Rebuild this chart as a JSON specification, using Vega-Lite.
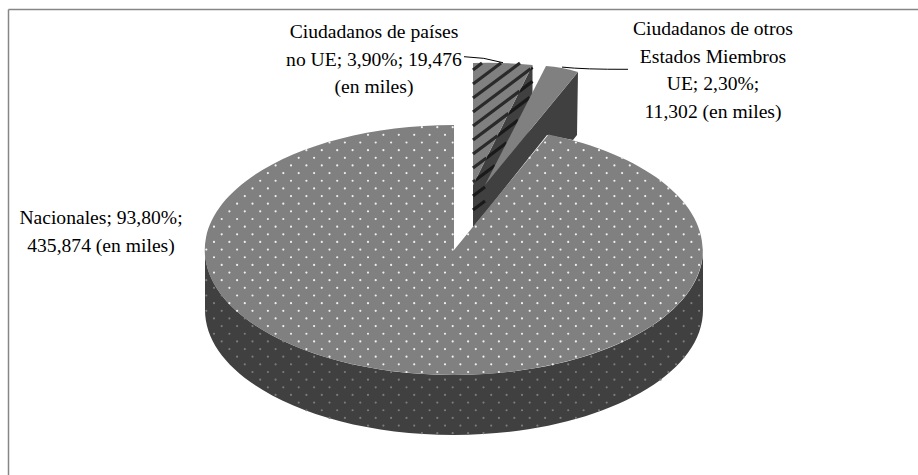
{"$schema":"https://vega.github.io/schema/vega-lite/v6.json","width":910,"height":466,"padding":{"left":8,"top":9,"right":0,"bottom":0},"autosize":"none","background":"white","view":{"stroke":null,"fill":"white"},"data":{"values":[{"segmento":"Ciudadanos de países no UE","porcentaje":3.9,"miles":19.476,"etiqueta":"Ciudadanos de países\nno UE; 3,90%; 19,476\n(en miles)"},{"segmento":"Ciudadanos de otros Estados Miembros UE","porcentaje":2.3,"miles":11.302,"etiqueta":"Ciudadanos de otros\nEstados Miembros\nUE; 2,30%;\n11,302 (en miles)"},{"segmento":"Nacionales","porcentaje":93.8,"miles":435.874,"etiqueta":"Nacionales; 93,80%;\n435,874 (en miles)"}]},"encoding":{"x":{"datum":0,"type":"quantitative","scale":{"domain":[-446,464],"nice":false,"zero":false},"axis":{"orient":"top","domain":true,"domainColor":"#868686","domainWidth":1.5,"ticks":false,"labels":false,"grid":false,"title":null}},"y":{"datum":0,"type":"quantitative","scale":{"domain":[-225,241],"nice":false,"zero":false},"axis":{"orient":"left","domain":true,"domainColor":"#868686","domainWidth":1.5,"ticks":false,"labels":false,"grid":false,"title":null}}},"layer":[{"mark":{"type":"point","filled":true,"fill":"#404040","stroke":null,"size":4,"opacity":1},"encoding":{"shape":{"field":"segmento","type":"nominal","legend":null,"scale":{"domain":["Ciudadanos de países no UE","Ciudadanos de otros Estados Miembros UE","Nacionales"],"range":["M19,-65L78.5,-185L78.5,-125L31,-37L19,-23Z","M31,-65L124,-178L123,-115L119,-110L93,-115L31,-37Z","M-249,0A249,125 0 0 0 249,0L249,60A249,125 0 0 1 -249,60Z"]}}}},{"transform":[{"filter":"datum.segmento === 'Ciudadanos de países no UE'"}],"mark":{"type":"point","filled":false,"stroke":"#1a1a1a","strokeWidth":3.2,"size":4,"opacity":1},"encoding":{"shape":{"field":"segmento","type":"nominal","legend":null,"scale":{"domain":["Ciudadanos de países no UE"],"range":["M76.6,-181.2L78.5,-182.6M65.6,-158.9L78.5,-168.6M54.5,-136.6L75.8,-152.6M43.5,-114.3L64.2,-129.9M32.4,-92L52.6,-107.2M21.3,-69.7L41,-84.5M19,-54L31,-63M19,-40L31,-49"]}}}},{"transform":[{"filter":"datum.segmento === 'Nacionales'"}],"mark":{"type":"point","filled":false,"stroke":"#7c7c7c","strokeWidth":2.2,"strokeDash":[0,15.4],"strokeCap":"round","size":4,"opacity":1},"encoding":{"shape":{"field":"segmento","type":"nominal","legend":null,"scale":{"domain":["Nacionales"],"range":["M-32.1,183.2H42M-86,175.55H95M-124.5,167.9H125.7M-147.6,160.25H148.7M-155.3,152.6H167.3M-178.4,144.95H182.7M-186.1,137.3H195.7M-193.8,129.65H206.8M-201.5,122H-54.2M60.3,122H216.2M-209.2,114.35H-100.6M114.2,114.35H224.2M-216.9,106.7H-129.7M137.3,106.7H231M-224.6,99.05H-151.9M160.4,99.05H236.5M-232.3,91.4H-169.8M183.5,91.4H241M-240,83.75H-184.9M191.2,83.75H244.5M-232.3,76.1H-197.5M198.9,76.1H246.9M-240,68.45H-208.3M222,68.45H248.4M-247.7,60.8H-217.6M229.7,60.8H249M-240,53.15H-225.4M237.4,53.15H249M-247.7,45.5H-231.9M245.1,45.5H249M-240,37.85H-237.3M-247.7,30.2H-241.6M245.1,30.2H249"]}}}},{"mark":{"type":"point","filled":true,"fill":"#808080","stroke":null,"size":4,"opacity":1},"encoding":{"shape":{"field":"segmento","type":"nominal","legend":null,"scale":{"domain":["Ciudadanos de países no UE","Ciudadanos de otros Estados Miembros UE","Nacionales"],"range":["M19,-65L19,-187Q50,-188 78.5,-185Z","M31,-65L92,-184Q108,-183 124,-178Z","M0,0L0,-125A249,125 0 1 0 94.5,-115.6Z"]}}}},{"transform":[{"filter":"datum.segmento === 'Ciudadanos de países no UE'"}],"mark":{"type":"point","filled":false,"stroke":"#2a2a2a","strokeWidth":3.2,"size":4,"opacity":1},"encoding":{"shape":{"field":"segmento","type":"nominal","legend":null,"scale":{"domain":["Ciudadanos de países no UE"],"range":["M19,-180L28,-187M19,-166L47,-187M19,-152L66,-187M19,-138L76.6,-181.2M19,-124L65.6,-158.9M19,-110L54.5,-136.6M19,-96L43.5,-114.3M19,-82L32.4,-92M19,-68L21.3,-69.7"]}}}},{"transform":[{"filter":"datum.segmento === 'Nacionales'"}],"mark":{"type":"point","filled":false,"stroke":"#f0f0f0","strokeWidth":2.2,"strokeDash":[0,15.4],"strokeCap":"round","size":4,"opacity":1},"encoding":{"shape":{"field":"segmento","type":"nominal","legend":null,"scale":{"domain":["Nacionales"],"range":["M-32.1,-122.8H-0.8M-86,-115.15H-0.8M-124.5,-107.5H-0.8M91.1,-107.5H127.1M-147.6,-99.85H-0.8M83.4,-99.85H149.8M-155.3,-92.2H-0.8M75.7,-92.2H168.1M-178.4,-84.55H-0.8M83.4,-84.55H183.4M-186.1,-76.9H-0.8M75.7,-76.9H196.3M-193.8,-69.25H-0.8M68,-69.25H207.3M-201.5,-61.6H-0.8M60.3,-61.6H216.7M-209.2,-53.95H-0.8M52.6,-53.95H224.6M-216.9,-46.3H-0.8M44.9,-46.3H231.3M-224.6,-38.65H-0.8M37.2,-38.65H236.8M-232.3,-31H-0.8M29.5,-31H241.2M-240,-23.35H-0.8M21.8,-23.35H244.6M-232.3,-15.7H-0.8M14.1,-15.7H247M-240,-8.05H-0.8M21.8,-8.05H248.5M-247.7,-0.4H249M-240,7.25H248M-232.3,14.9H247M-240,22.55H244.9M-232.3,30.2H241.6M-224.6,37.85H237.3M-216.9,45.5H231.9M-224.6,53.15H225.4M-216.9,60.8H217.6M-193.8,68.45H208.3M-186.1,76.1H197.5M-178.4,83.75H184.9M-155.3,91.4H169.8M-147.6,99.05H151.9M-124.5,106.7H129.7M-86,114.35H100.6M-47.5,122H54.2"]}}}},{"transform":[{"filter":"datum.segmento !== 'Nacionales'"}],"mark":{"type":"point","filled":false,"stroke":"#000000","strokeWidth":1,"size":4,"opacity":1},"encoding":{"shape":{"field":"segmento","type":"nominal","legend":null,"scale":{"domain":["Ciudadanos de países no UE","Ciudadanos de otros Estados Miembros UE"],"range":["M10,-193.3Q30,-193 49,-187.3","M108,-182.9Q130,-180.5 174,-180.7"]}}}},{"transform":[{"filter":"datum.segmento === 'Ciudadanos de países no UE'"}],"mark":{"type":"text","font":"Liberation Serif","fontSize":19.6,"color":"#000000","align":"center","baseline":"alphabetic","lineBreak":"\n","lineHeight":27.5,"dx":-80,"dy":-212},"encoding":{"text":{"field":"etiqueta","type":"nominal"}}},{"transform":[{"filter":"datum.segmento === 'Ciudadanos de otros Estados Miembros UE'"}],"mark":{"type":"text","font":"Liberation Serif","fontSize":19.6,"color":"#000000","align":"center","baseline":"alphabetic","lineBreak":"\n","lineHeight":27.5,"dx":259,"dy":-215},"encoding":{"text":{"field":"etiqueta","type":"nominal"}}},{"transform":[{"filter":"datum.segmento === 'Nacionales'"}],"mark":{"type":"text","font":"Liberation Serif","fontSize":19.6,"color":"#000000","align":"center","baseline":"alphabetic","lineBreak":"\n","lineHeight":27.5,"dx":-353,"dy":-26},"encoding":{"text":{"field":"etiqueta","type":"nominal"}}}],"resolve":{"scale":{"shape":"independent"}}}
